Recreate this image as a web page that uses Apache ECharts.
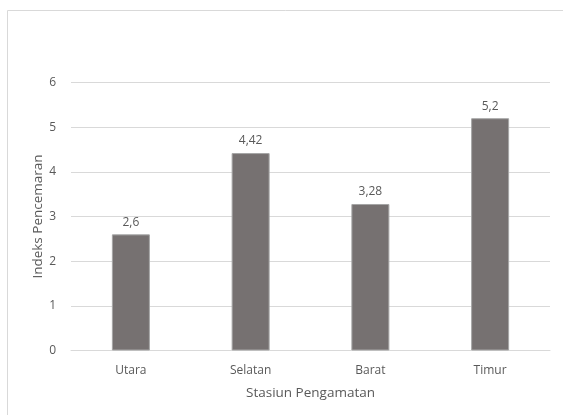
<!DOCTYPE html>
<html><head><meta charset="utf-8">
<script src="https://cdn.jsdelivr.net/npm/echarts@6/dist/echarts.min.js"></script>
<style>html,body{margin:0;padding:0;background:#fff}#c{width:563px;height:415px}</style>
</head><body><div id="c"></div>
<script>
var categories = ['Utara', 'Selatan', 'Barat', 'Timur'];
var values = [2.6, 4.42, 3.28, 5.2];
var yTicks = [0, 1, 2, 3, 4, 5, 6];

var chart = echarts.init(document.getElementById('c'), null, {renderer: 'canvas'});
var font = '"Open Sans", "Noto Sans", sans-serif';
var fmt = function (v) { return String(v).replace('.', ','); };
chart.setOption({
  animation: false,
  graphic: [{
    type: 'rect', silent: true,
    shape: {x: 7.5, y: 10.5, width: 600, height: 500},
    style: {fill: 'none', stroke: '#d9d9d9', lineWidth: 1}
  }],
  grid: {left: 71, right: 13, top: 82.5, bottom: 64.5},
  xAxis: {
    type: 'category', data: categories,
    name: 'Stasiun Pengamatan', nameLocation: 'middle', nameGap: 36, nameMoveOverlap: false,
    nameTextStyle: {color: '#595959', fontSize: 13.5, fontFamily: font},
    axisLine: {lineStyle: {color: '#d9d9d9'}},
    axisTick: {show: false},
    axisLabel: {color: '#595959', fontSize: 12, fontFamily: font, margin: 14}
  },
  yAxis: {
    type: 'value', min: yTicks[0], max: yTicks[yTicks.length - 1], interval: 1,
    name: 'Indeks Pencemaran', nameLocation: 'middle', nameGap: 26, nameMoveOverlap: false,
    nameTextStyle: {color: '#595959', fontSize: 13.5, fontFamily: font},
    axisLine: {show: false}, axisTick: {show: false},
    axisLabel: {color: '#595959', fontSize: 12, fontFamily: font, margin: 15},
    splitLine: {lineStyle: {color: '#d9d9d9'}}
  },
  series: [{
    type: 'bar', data: values, barWidth: 38,
    itemStyle: {color: '#767171', borderColor: '#a6a6a6', borderWidth: 1},
    label: {show: true, position: 'top', distance: 6, color: '#595959', fontSize: 12, fontFamily: font,
      formatter: function (p) { return fmt(p.value); }}
  }]
});
</script></body></html>
